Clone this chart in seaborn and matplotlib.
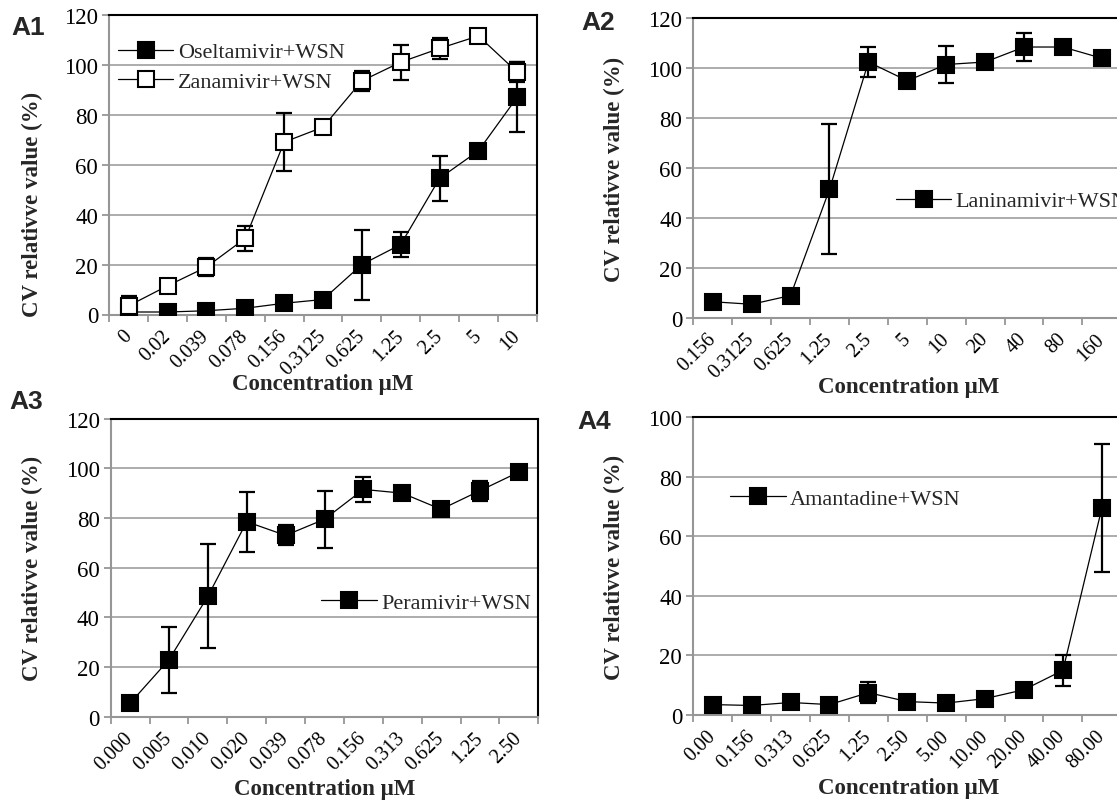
import numpy as np
import pandas as pd
import matplotlib
matplotlib.use("Agg")
import matplotlib.pyplot as plt
from matplotlib.ticker import FixedLocator, NullFormatter
import seaborn as sns

# ---------------- data ----------------
a1_conc = ["0", "0.02", "0.039", "0.078", "0.156", "0.3125", "0.625", "1.25", "2.5", "5", "10"]
oseltamivir = [1.0, 1.0, 1.5, 2.5, 4.5, 6.0, 20.0, 28.0, 54.5, 65.5, 87.0]
oseltamivir_err = [0.5, 0.5, 0.5, 0.5, 1.0, 1.0, 14.0, 5.0, 9.0, 0.5, 14.0]
zanamivir = [3.5, 11.5, 19.0, 30.5, 69.0, 75.0, 93.5, 101.0, 106.5, 111.5, 97.0]
zanamivir_err = [3.8, 1.0, 3.5, 5.0, 11.7, 2.5, 4.0, 7.0, 4.2, 0.5, 4.0]

a2_conc = ["0.156", "0.3125", "0.625", "1.25", "2.5", "5", "10", "20", "40", "80", "160"]
laninamivir = [6.5, 5.5, 9.0, 51.5, 102.5, 95.0, 101.5, 102.5, 108.5, 108.5, 104.0]
laninamivir_err = [0.5, 0.5, 2.5, 26.0, 6.0, 0.5, 7.5, 0.5, 5.5, 0.5, 0.5]

a3_conc = ["0.000", "0.005", "0.010", "0.020", "0.039", "0.078", "0.156", "0.313", "0.625", "1.25", "2.50"]
peramivir = [5.5, 23.0, 48.5, 78.5, 73.0, 79.5, 91.5, 90.0, 83.5, 91.0, 98.5]
peramivir_err = [0.5, 13.3, 21.0, 12.0, 4.0, 11.5, 5.0, 0.5, 0.5, 4.0, 0.5]

a4_conc = ["0.00", "0.156", "0.313", "0.625", "1.25", "2.50", "5.00", "10.00", "20.00", "40.00", "80.00"]
amantadine = [3.5, 3.2, 4.2, 3.5, 7.5, 4.5, 4.0, 5.5, 8.5, 15.0, 69.5]
amantadine_err = [0.5, 0.5, 0.5, 0.5, 3.5, 0.5, 0.5, 0.5, 2.0, 5.3, 21.6]

panel_labels = ["A1", "A2", "A3", "A4"]
ylabel_text = "CV relativve value (%)"
xlabel_text = "Concentration \u03bcM"

# ---------------- style ----------------
sns.set_theme(style="white")
plt.rcParams['font.family'] = ['Liberation Serif', 'DejaVu Serif']

W, H = 1117, 803
fig = plt.figure(figsize=(W / 100, H / 100), dpi=100)


def add_ax(l, t, r, b):
    return fig.add_axes([l / W, (H - b) / H, (r - l) / W, (b - t) / H])


GRID = "#a6a6a6"
AXIS = "#969696"


def style_ax(ax, cats, ymax, ylab_xy, xlab_xy):
    n = len(cats)
    ax.set_xlim(-0.5, n - 0.5)
    ax.set_ylim(0, ymax)
    ax.set_yticks(np.arange(0, ymax + 1, 20))
    ax.yaxis.grid(True, color=GRID, lw=1.3)
    ax.xaxis.grid(False)
    ax.set_axisbelow(True)
    ax.set_xticks(np.arange(n))
    ax.set_xticklabels(cats, rotation=45, ha="right", va="center", rotation_mode="anchor")
    ax.xaxis.set_minor_locator(FixedLocator(np.arange(-0.5, n, 1.0)))
    ax.xaxis.set_minor_formatter(NullFormatter())
    ax.tick_params(axis="x", which="major", length=0, pad=13, labelsize=14.5, colors="black")
    ax.tick_params(axis="x", which="minor", length=5, width=1.3, color=AXIS, bottom=True)
    ax.tick_params(axis="y", which="major", length=5, width=1.3, color=AXIS, left=True,
                   pad=3, labelsize=16.5, labelcolor="black")
    for s in ["left", "bottom"]:
        ax.spines[s].set_color(AXIS)
        ax.spines[s].set_linewidth(1.5)
    for s in ["top", "right"]:
        ax.spines[s].set_color("black")
        ax.spines[s].set_linewidth(1.5)
    ax.set_ylabel(ylabel_text, fontsize=16.5, fontweight="bold")
    ax.yaxis.set_label_coords(*ylab_xy)
    ax.yaxis.label.set_va("center")
    ax.set_xlabel(xlabel_text, fontsize=16.5, fontweight="bold")
    ax.xaxis.set_label_coords(*xlab_xy)
    ax.xaxis.label.set_va("center")


def draw_series(ax, cats, vals, errs, label, filled=True):
    x = np.arange(len(cats))
    df = pd.DataFrame({"x": x, "y": vals})
    ax.errorbar(x, vals, yerr=errs, fmt="none", ecolor="black", elinewidth=1.6,
                capsize=5.5, capthick=1.6, zorder=2)
    sns.lineplot(data=df, x="x", y="y", ax=ax, color="black", lw=0.9, marker="s",
                 markersize=11.5, markeredgecolor="black", markeredgewidth=1.5,
                 markerfacecolor="black" if filled else "white", label=label, zorder=3)


def legend(ax, xy):
    ax.legend(loc="center left", bbox_to_anchor=xy, frameon=False, fontsize=16,
              borderpad=0, borderaxespad=0, handlelength=2.5, handletextpad=0.2,
              labelspacing=0.4)


# A1
ax1 = add_ax(109.3, 15.7, 536.7, 315.5)
draw_series(ax1, a1_conc, oseltamivir, oseltamivir_err, "Oseltamivir+WSN", True)
draw_series(ax1, a1_conc, zanamivir, zanamivir_err, "Zanamivir+WSN", False)
style_ax(ax1, a1_conc, 120, (-0.18, 0.369), (0.5, -0.2285))
legend(ax1, (0.02, 0.826))

# A2
ax2 = add_ax(693.3, 19.3, 1121.3, 319.0)
draw_series(ax2, a2_conc, laninamivir, laninamivir_err, "Laninamivir+WSN", True)
style_ax(ax2, a2_conc, 120, (-0.184, 0.5), (0.504, -0.230))
legend(ax2, (0.473, 0.39))

# A3
ax3 = add_ax(110.7, 419.6, 538.3, 717.8)
draw_series(ax3, a3_conc, peramivir, peramivir_err, "Peramivir+WSN", True)
style_ax(ax3, a3_conc, 120, (-0.183, 0.5), (0.5, -0.2388))
legend(ax3, (0.492, 0.382))

# A4
ax4 = add_ax(693.3, 418.3, 1121.3, 716.0)
draw_series(ax4, a4_conc, amantadine, amantadine_err, "Amantadine+WSN", True)
style_ax(ax4, a4_conc, 100, (-0.184, 0.5), (0.504, -0.245))
legend(ax4, (0.0857, 0.726))

# panel labels
for lab, (px, py) in zip(panel_labels, [(28, 28), (598, 23), (26, 402), (594, 422)]):
    fig.text(px / W, 1 - py / H, lab, ha="center", va="center", fontsize=19,
             fontweight="bold", family=["Liberation Sans", "DejaVu Sans"])

fig.savefig("out.png", dpi=100)
